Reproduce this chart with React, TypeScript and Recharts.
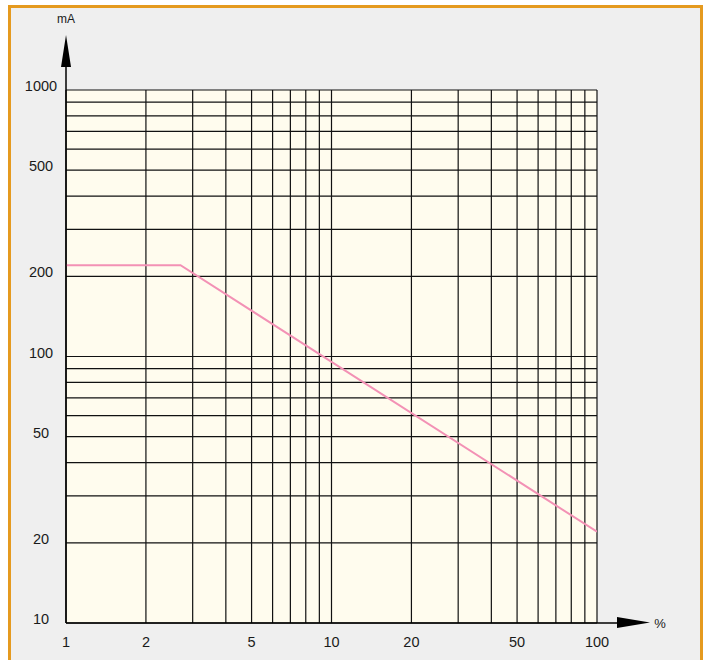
import { LineChart, Line, XAxis, YAxis, CartesianGrid } from 'recharts';

// Load line: current (mA) against percentage, log-log
const percent = [1, 2.7, 100];
const current = [220, 220, 22];

// grid lines on every decade step, labels only on a few
const xTicks = [1, 2, 3, 4, 5, 6, 7, 8, 9, 10, 20, 30, 40, 50, 60, 70, 80, 90, 100];
const yTicks = [10, 20, 30, 40, 50, 60, 70, 80, 90, 100, 200, 300, 400, 500, 600, 700, 800, 900, 1000];
const xLabels = [1, 2, 5, 10, 20, 50, 100];
const yLabels = [10, 20, 50, 100, 200, 500, 1000];

const data = percent.map((p, i) => ({ x: p, y: current[i] }));

const FONT = 'Liberation Sans, Arial, sans-serif';

const XTick = (props: any) => {
  const { x, y, payload } = props;
  if (!xLabels.includes(payload.value)) return null;
  return (
    <text x={x} y={y + 11} textAnchor="middle" dominantBaseline="central" fontSize={14.5} fontFamily={FONT} fill="#1a1a1a">
      {payload.value}
    </text>
  );
};

const YTick = (props: any) => {
  const { y, payload } = props;
  if (!yLabels.includes(payload.value)) return null;
  return (
    <text x={41} y={y - 4} textAnchor="middle" dominantBaseline="central" fontSize={14.5} fontFamily={FONT} fill="#1a1a1a">
      {payload.value}
    </text>
  );
};

const App = () => {
  return (
    <div style={{ position: 'relative', width: 704, height: 660, background: '#fff', overflow: 'hidden' }}>
      <style>{'body{margin:0}'}</style>
      <div
        style={{
          position: 'absolute',
          left: 8,
          top: 5,
          width: 695,
          height: 700,
          background: '#efefef',
          border: '3px solid #e59a1f',
          boxSizing: 'border-box',
        }}
      />
      <LineChart
        width={704}
        height={660}
        data={data}
        margin={{ top: 90, right: 107, bottom: 0, left: 0 }}
        style={{ position: 'absolute', left: 0, top: 0 }}
      >
        <CartesianGrid stroke="#111" strokeWidth={1.2} fill="#fffcee" fillOpacity={1} />
        <XAxis
          dataKey="x"
          type="number"
          scale="log"
          domain={[1, 100]}
          ticks={xTicks}
          interval={0}
          allowDataOverflow
          height={37}
          axisLine={false}
          tickLine={false}
          tick={<XTick />}
        />
        <YAxis
          dataKey="y"
          type="number"
          scale="log"
          domain={[10, 1000]}
          ticks={yTicks}
          interval={0}
          allowDataOverflow
          width={66}
          axisLine={false}
          tickLine={false}
          tick={<YTick />}
        />
        <Line
          dataKey="y"
          type="linear"
          stroke="#f391b5"
          strokeWidth={2}
          dot={false}
          isAnimationActive={false}
        />
      </LineChart>
      <svg
        width={704}
        height={660}
        style={{ position: 'absolute', left: 0, top: 0, pointerEvents: 'none' }}
      >
        <line x1={66} y1={623} x2={66} y2={64} stroke="#000" strokeWidth={1.5} />
        <polygon points="66,35 61,67 71,67" fill="#000" />
        <line x1={66} y1={623} x2={620} y2={623} stroke="#000" strokeWidth={1.5} />
        <polygon points="650,622.5 617,617 617,628" fill="#000" />
        <text x={66} y={19} textAnchor="middle" dominantBaseline="central" fontSize={12} fontFamily={FONT} fill="#1a1a1a">
          mA
        </text>
        <text x={660} y={623} textAnchor="middle" dominantBaseline="central" fontSize={13} fontFamily={FONT} fill="#1a1a1a">
          %
        </text>
      </svg>
    </div>
  );
};

export default App;
